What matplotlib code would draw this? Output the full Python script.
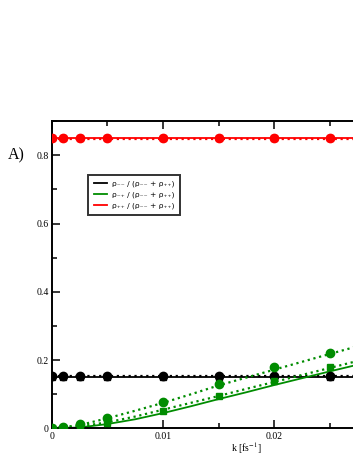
import matplotlib
matplotlib.use('Agg')
import matplotlib.pyplot as plt
from matplotlib.ticker import MultipleLocator

# sampled k values (fs^-1)
k_pts = [0, 0.001, 0.0025, 0.005, 0.01, 0.015, 0.02, 0.025, 0.03]
# points (circles / squares)
mm_circ = [0.153, 0.153, 0.153, 0.153, 0.153, 0.153, 0.153, 0.153, 0.153]
mm_sq = [0.152, 0.152, 0.152, 0.152, 0.152, 0.152, 0.152, 0.152, 0.152]
pp_circ = [0.851, 0.851, 0.851, 0.851, 0.851, 0.851, 0.851, 0.851, 0.851]
pp_sq = [0.850, 0.850, 0.850, 0.850, 0.850, 0.850, 0.850, 0.850, 0.850]
mp_circ = [0.002, 0.005, 0.014, 0.031, 0.078, 0.130, 0.179, 0.220, 0.262]
mp_sq = [0.0, 0.002, 0.005, 0.016, 0.052, 0.096, 0.138, 0.180, 0.220]

# curves
k_line = [0, 0.0025, 0.005, 0.0075, 0.01, 0.0125, 0.015, 0.0175, 0.02, 0.025, 0.03, 0.035]
mm_solid = [0.150] * 12
mm_dot = [0.154] * 12
pp_solid = [0.850] * 12
pp_dot = [0.848] * 12
mp_solid = [0.0, 0.003, 0.013, 0.027, 0.045, 0.065, 0.086, 0.106, 0.127, 0.167, 0.206, 0.245]
mp_dot1 = [0.0, 0.010, 0.030, 0.052, 0.075, 0.100, 0.126, 0.149, 0.172, 0.218, 0.263, 0.308]
mp_dot2 = [0.0, 0.006, 0.018, 0.035, 0.055, 0.075, 0.095, 0.116, 0.136, 0.177, 0.218, 0.259]

xticks = [0, 0.01, 0.02]
xtick_labels = ['0', '0.01', '0.02']
yticks = [0, 0.2, 0.4, 0.6, 0.8]
ytick_labels = ['0', '0.2', '0.4', '0.6', '0.8']

green = '#008c00'

plt.rcParams['font.family'] = 'Liberation Serif'
plt.rcParams['mathtext.fontset'] = 'stix'

fig = plt.figure(figsize=(3.53, 4.57), dpi=100)
ax = fig.add_axes([0.1473, 0.0624, 1.1006, 0.6726])

ax.plot(k_line, mm_solid, '-', color='black', lw=1.3, zorder=2)
ax.plot(k_line, mm_dot, ':', color='black', lw=1.6, zorder=2)
ax.plot(k_line, pp_solid, '-', color='red', lw=1.3, zorder=2)
ax.plot(k_line, pp_dot, ':', color='red', lw=1.6, zorder=2)
ax.plot(k_line, mp_solid, '-', color=green, lw=1.3, zorder=2)
ax.plot(k_line, mp_dot1, ':', color=green, lw=1.6, zorder=2)
ax.plot(k_line, mp_dot2, ':', color=green, lw=1.6, zorder=2)

ax.plot(k_pts, mm_sq, 's', color='black', ms=5, ls='none', zorder=3)
ax.plot(k_pts, mm_circ, 'o', color='black', ms=6, ls='none', zorder=3)
ax.plot(k_pts, pp_sq, 's', color='red', ms=5, ls='none', zorder=3)
ax.plot(k_pts, pp_circ, 'o', color='red', ms=6, ls='none', zorder=3)
ax.plot(k_pts, mp_sq, 's', color=green, ms=5, ls='none', zorder=3)
ax.plot(k_pts, mp_circ, 'o', color=green, ms=6, ls='none', zorder=3)

ax.set_xlim(0, 0.035)
ax.set_ylim(0, 0.9)
ax.xaxis.set_minor_locator(MultipleLocator(0.005))
ax.yaxis.set_minor_locator(MultipleLocator(0.1))
ax.set_xticks(xticks)
ax.set_xticklabels(xtick_labels)
ax.set_yticks(yticks)
ax.set_yticklabels(ytick_labels)
ax.tick_params(which='both', direction='in', top=True, right=True, labelsize=7, width=1.1, pad=2.5)
ax.tick_params(which='major', length=6)
ax.tick_params(which='minor', length=3.5)
for s in ax.spines.values():
    s.set_linewidth(1.4)

xl = ax.set_xlabel('k [fs$^{-1}$]', fontsize=7)
xl.set_va('center')
ax.xaxis.set_label_coords(0.5, -0.064)

fig.text(0.022, 0.661, 'A)', fontsize=11.5, va='center')

h1, = ax.plot([], [], '-', color='black', lw=1.3)
h2, = ax.plot([], [], '-', color=green, lw=1.3)
h3, = ax.plot([], [], '-', color='red', lw=1.3)
labels = ['ρ₋₋ / (ρ₋₋ + ρ₊₊)',
          'ρ₋₊ / (ρ₋₋ + ρ₊₊)',
          'ρ₊₊ / (ρ₋₋ + ρ₊₊)']
leg = fig.legend([h1, h2, h3], labels, loc='upper left', bbox_to_anchor=(0.249, 0.617),
                 frameon=True, fancybox=False, handlelength=1.8,
                 borderpad=0.75, labelspacing=0.55, handletextpad=0.6, borderaxespad=0,
                 prop={'family': 'DejaVu Sans', 'size': 5.4})
leg.get_frame().set_edgecolor('black')
leg.get_frame().set_linewidth(1.4)

fig.savefig('out.png', dpi=100)
